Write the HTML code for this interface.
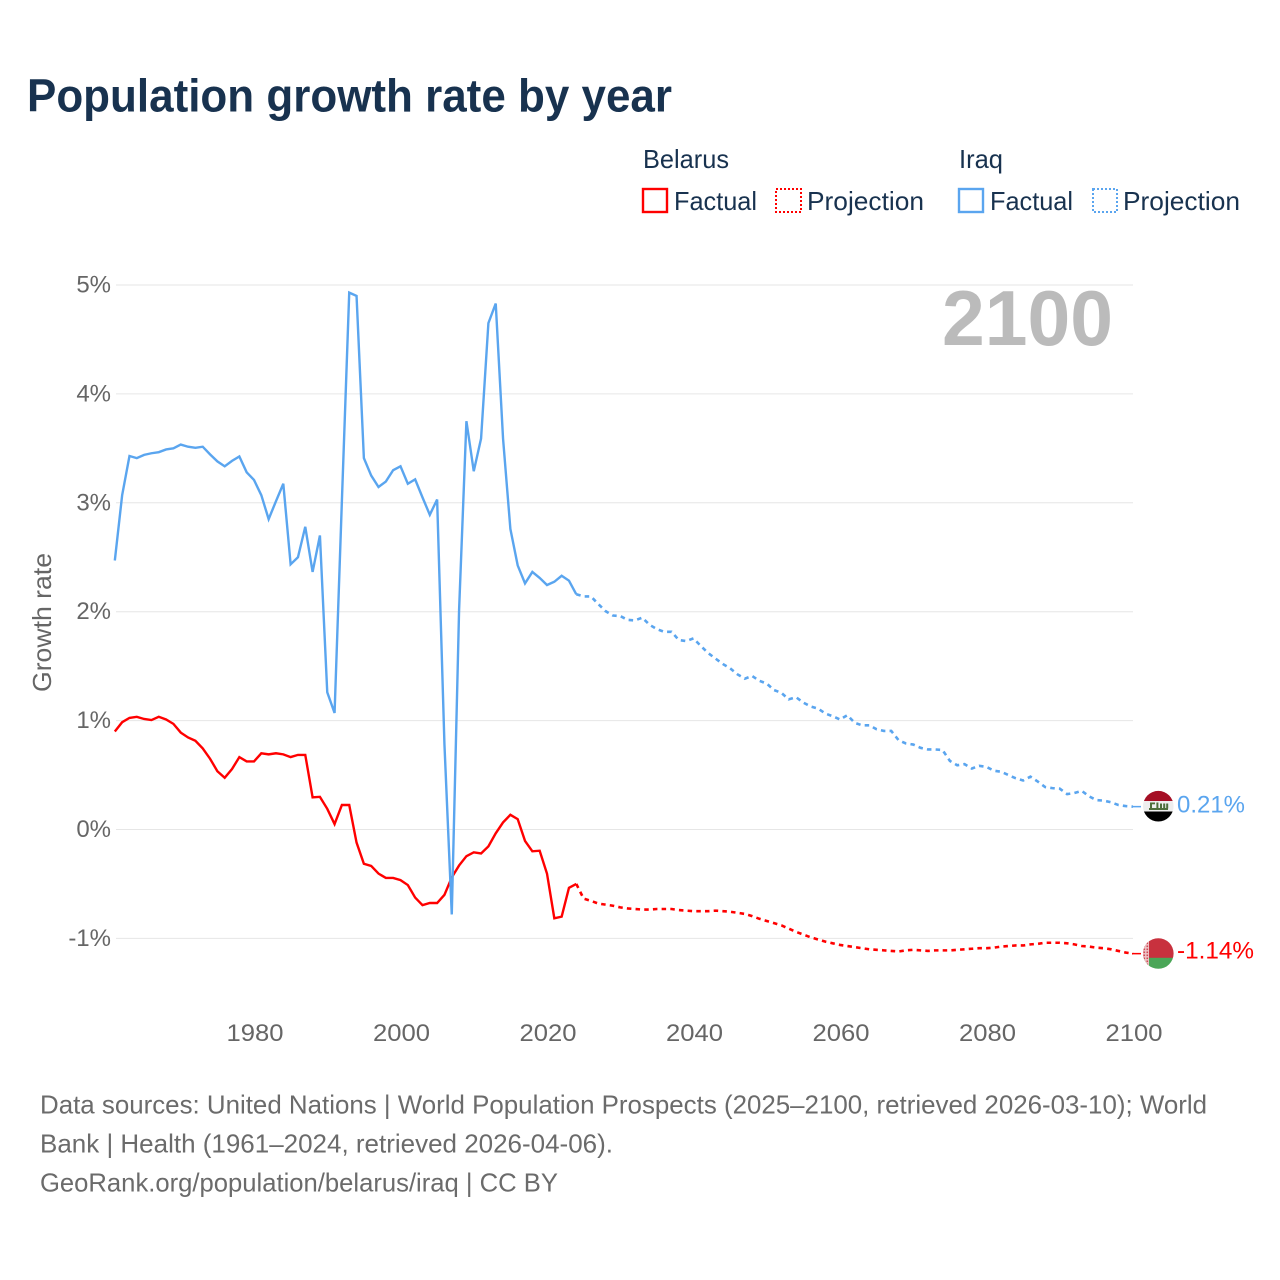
<!DOCTYPE html>
<html lang="en">
<head>
<meta charset="utf-8">
<title>Population growth rate by year</title>
<style>
html,body{margin:0;padding:0;background:#fff;width:1280px;height:1280px;overflow:hidden}
svg{display:block;font-family:"Liberation Sans",sans-serif}
</style>
</head>
<body>
<svg id="chart" xmlns="http://www.w3.org/2000/svg" width="1280" height="1280" viewBox="0 0 1280 1280">
  <defs>
    <clipPath id="iraq-clip"><circle cx="1158.3" cy="806.2" r="15.3"/></clipPath>
    <clipPath id="belarus-clip"><circle cx="1158.3" cy="953.5" r="15.3"/></clipPath>
    <pattern id="belarus-ornament" width="3" height="3" patternUnits="userSpaceOnUse">
      <rect width="3" height="3" fill="#eec4c7"/>
      <rect x="0.5" y="0.5" width="1.6" height="1.6" fill="#cf4a55"/>
    </pattern>
  </defs>

  <text x="27" y="111.5" font-size="46" font-weight="700" fill="#18324f" textLength="645" lengthAdjust="spacingAndGlyphs">Population growth rate by year</text>

  <g font-size="26" fill="#18324f">
    <text x="643" y="168" textLength="86" lengthAdjust="spacingAndGlyphs">Belarus</text>
    <text x="959" y="168" textLength="44" lengthAdjust="spacingAndGlyphs">Iraq</text>
    <rect x="643" y="189" width="24" height="23" fill="none" stroke="#ff0000" stroke-width="2.4"/>
    <text x="674" y="210" textLength="83" lengthAdjust="spacingAndGlyphs">Factual</text>
    <rect x="776" y="189" width="25" height="23" fill="none" stroke="#ff0000" stroke-width="2" stroke-dasharray="2 2"/>
    <text x="807" y="210" textLength="117" lengthAdjust="spacingAndGlyphs">Projection</text>
    <rect x="959" y="189" width="24" height="23" fill="none" stroke="#5aa5ef" stroke-width="2.4"/>
    <text x="990" y="210" textLength="83" lengthAdjust="spacingAndGlyphs">Factual</text>
    <rect x="1093" y="189" width="24" height="23" fill="none" stroke="#5aa5ef" stroke-width="2" stroke-dasharray="2 2"/>
    <text x="1123" y="210" textLength="117" lengthAdjust="spacingAndGlyphs">Projection</text>
  </g>

  <g id="grid"></g>
  <g id="y-labels"></g>
  <g id="x-labels"></g>

  <text transform="translate(51 692) rotate(-90)" font-size="26" fill="#666666" textLength="139" lengthAdjust="spacingAndGlyphs">Growth rate</text>

  <text x="942" y="345" font-size="78" font-weight="700" fill="#bbbbbb" textLength="171" lengthAdjust="spacingAndGlyphs">2100</text>

  <g id="series"></g>

  <g clip-path="url(#iraq-clip)">
    <rect x="1142" y="790" width="33" height="11" fill="#a50f25"/>
    <rect x="1142" y="801" width="33" height="10.5" fill="#eeeeee"/>
    <rect x="1142" y="811.5" width="33" height="11" fill="#000000"/>
    <g fill="#4f6f3c">
      <rect x="1149" y="808" width="19" height="2"/>
      <rect x="1150" y="802.5" width="2" height="6"/>
      <rect x="1150" y="802.5" width="5" height="1.8"/>
      <rect x="1156.4" y="802.5" width="2" height="6"/>
      <rect x="1160" y="803.5" width="2" height="5"/>
      <rect x="1163.2" y="803.5" width="2" height="5"/>
      <rect x="1166.2" y="803.5" width="2" height="5"/>
    </g>
  </g>
  <g clip-path="url(#belarus-clip)">
    <rect x="1142" y="937" width="33" height="21" fill="#c8313e"/>
    <rect x="1142" y="957.8" width="33" height="13" fill="#4aa657"/>
    <rect x="1142" y="937" width="7" height="33" fill="url(#belarus-ornament)"/>
  </g>

  <text id="end-label-iraq" x="1177" y="812.5" font-size="24" fill="#5aa5ef" textLength="68" lengthAdjust="spacingAndGlyphs">0.21%</text>
  <text id="end-label-belarus" x="1177" y="958.5" font-size="24" fill="#ff0000" textLength="77" lengthAdjust="spacingAndGlyphs">-1.14%</text>

  <g font-size="26" fill="#6b6b6b">
    <text x="40" y="1113.5" textLength="1167" lengthAdjust="spacingAndGlyphs">Data sources: United Nations | World Population Prospects (2025–2100, retrieved 2026-03-10); World</text>
    <text x="40" y="1152.5" textLength="573" lengthAdjust="spacingAndGlyphs">Bank | Health (1961–2024, retrieved 2026-04-06).</text>
    <text x="40" y="1191.5" textLength="518" lengthAdjust="spacingAndGlyphs">GeoRank.org/population/belarus/iraq | CC BY</text>
  </g>
</svg>

<script>
const factualStartYear = 1961;
const projectionStartYear = 2024;
const xTickYears = [1980, 2000, 2020, 2040, 2060, 2080, 2100];
const yTickValues = [5, 4, 3, 2, 1, 0, -1];
const yTickLabels = ["5%", "4%", "3%", "2%", "1%", "0%", "-1%"];

const iraqFactual = [2.47,3.07,3.43,3.41,3.44,3.455,3.465,3.49,3.50,3.535,3.515,3.505,3.515,3.445,3.38,3.335,3.385,3.425,3.28,3.21,3.07,2.85,3.015,3.175,2.435,2.50,2.78,2.365,2.70,1.26,1.07,3.02,4.93,4.90,3.41,3.25,3.145,3.195,3.30,3.335,3.175,3.215,3.05,2.89,3.03,0.78,-0.78,2.02,3.75,3.29,3.59,4.65,4.83,3.59,2.76,2.425,2.26,2.365,2.31,2.245,2.275,2.33,2.285,2.16];

const iraqProjection = [2.16,2.14,2.14,2.07,2.005,1.965,1.96,1.925,1.92,1.945,1.88,1.84,1.815,1.815,1.74,1.73,1.755,1.685,1.62,1.57,1.52,1.48,1.425,1.385,1.41,1.365,1.34,1.28,1.255,1.195,1.215,1.165,1.13,1.11,1.065,1.04,1.01,1.05,0.98,0.957,0.957,0.92,0.905,0.905,0.82,0.79,0.78,0.75,0.735,0.735,0.73,0.63,0.59,0.60,0.56,0.585,0.575,0.54,0.53,0.50,0.47,0.45,0.485,0.44,0.39,0.38,0.375,0.325,0.335,0.355,0.305,0.27,0.265,0.25,0.225,0.215,0.21];

const belarusFactual = [0.90,0.985,1.025,1.035,1.015,1.005,1.035,1.01,0.97,0.89,0.845,0.815,0.745,0.65,0.535,0.475,0.555,0.665,0.625,0.625,0.70,0.69,0.70,0.69,0.665,0.685,0.685,0.295,0.30,0.19,0.05,0.225,0.225,-0.12,-0.315,-0.335,-0.405,-0.445,-0.445,-0.465,-0.51,-0.625,-0.695,-0.675,-0.675,-0.60,-0.44,-0.33,-0.245,-0.21,-0.22,-0.155,-0.035,0.065,0.135,0.095,-0.105,-0.20,-0.195,-0.405,-0.815,-0.80,-0.535,-0.50];

const belarusProjection = [-0.50,-0.635,-0.655,-0.68,-0.69,-0.70,-0.715,-0.725,-0.73,-0.735,-0.735,-0.73,-0.73,-0.73,-0.74,-0.745,-0.75,-0.75,-0.75,-0.745,-0.75,-0.755,-0.765,-0.775,-0.795,-0.82,-0.84,-0.86,-0.88,-0.91,-0.94,-0.965,-0.99,-1.01,-1.03,-1.045,-1.06,-1.07,-1.08,-1.09,-1.10,-1.105,-1.11,-1.115,-1.12,-1.11,-1.105,-1.11,-1.115,-1.11,-1.11,-1.11,-1.105,-1.10,-1.095,-1.09,-1.09,-1.085,-1.075,-1.07,-1.065,-1.065,-1.055,-1.05,-1.04,-1.04,-1.04,-1.045,-1.055,-1.07,-1.075,-1.085,-1.09,-1.10,-1.115,-1.13,-1.14];

const SVG_NS = "http://www.w3.org/2000/svg";
const BLUE = "#5aa5ef";
const RED = "#ff0000";

function xScale(year) { return 1133 - (2100 - year) * 7.325; }
function yScale(value) { return 829.5 - value * 108.9; }

function pointsFor(values, startYear) {
  return values.map(function (v, i) {
    return xScale(startYear + i).toFixed(2) + "," + yScale(v).toFixed(2);
  }).join(" ");
}

const gridGroup = document.getElementById("grid");
const yLabelGroup = document.getElementById("y-labels");
const xLabelGroup = document.getElementById("x-labels");
const seriesGroup = document.getElementById("series");

yTickValues.forEach(function (tick, i) {
  const line = document.createElementNS(SVG_NS, "line");
  
  
  line.setAttribute("x1", 116);
  line.setAttribute("x2", 1133);
  line.setAttribute("y1", yScale(tick));
  line.setAttribute("y2", yScale(tick));
  line.setAttribute("stroke", "#e6e6e6");
  line.setAttribute("stroke-width", "1");
  gridGroup.appendChild(line);

  const label = document.createElementNS(SVG_NS, "text");
  
  
  label.setAttribute("x", 111);
  label.setAttribute("y", yScale(tick) + 7.5);
  label.setAttribute("text-anchor", "end");
  label.setAttribute("font-size", "24");
  label.setAttribute("fill", "#666666");
  label.textContent = yTickLabels[i];
  yLabelGroup.appendChild(label);
});

xTickYears.forEach(function (year) {
  const label = document.createElementNS(SVG_NS, "text");
  
  
  label.setAttribute("x", xScale(year) - 27.5);
  label.setAttribute("y", 1041);
  label.setAttribute("font-size", "24");
  label.setAttribute("fill", "#666666");
  label.setAttribute("textLength", "57");
  label.setAttribute("lengthAdjust", "spacingAndGlyphs");
  label.textContent = String(year);
  xLabelGroup.appendChild(label);
});

function drawLine(values, startYear, color, dashed, name) {
  const line = document.createElementNS(SVG_NS, "polyline");
  
  
  line.setAttribute("points", pointsFor(values, startYear));
  line.setAttribute("fill", "none");
  line.setAttribute("stroke", color);
  line.setAttribute("stroke-width", dashed ? "2.6" : "2.4");
  line.setAttribute("stroke-linejoin", "miter");
  if (dashed) { line.setAttribute("stroke-dasharray", "4.5 4.2"); }
  seriesGroup.appendChild(line);
}

drawLine(belarusProjection, projectionStartYear, RED, true, "line-belarus-projection");
drawLine(iraqProjection, projectionStartYear, BLUE, true, "line-iraq-projection");
drawLine(belarusFactual, factualStartYear, RED, false, "line-belarus-factual");
drawLine(iraqFactual, factualStartYear, BLUE, false, "line-iraq-factual");

function drawConnector(lastValue, color, name) {
  const c = document.createElementNS(SVG_NS, "line");
  
  
  c.setAttribute("x1", xScale(2100) - 1);
  c.setAttribute("x2", xScale(2100) + 8);
  c.setAttribute("y1", yScale(lastValue));
  c.setAttribute("y2", yScale(lastValue));
  c.setAttribute("stroke", color);
  c.setAttribute("stroke-width", "1.5");
  seriesGroup.appendChild(c);
}

drawConnector(iraqProjection[iraqProjection.length - 1], BLUE, "connector-iraq");
drawConnector(belarusProjection[belarusProjection.length - 1], RED, "connector-belarus");
</script>
</body>
</html>
